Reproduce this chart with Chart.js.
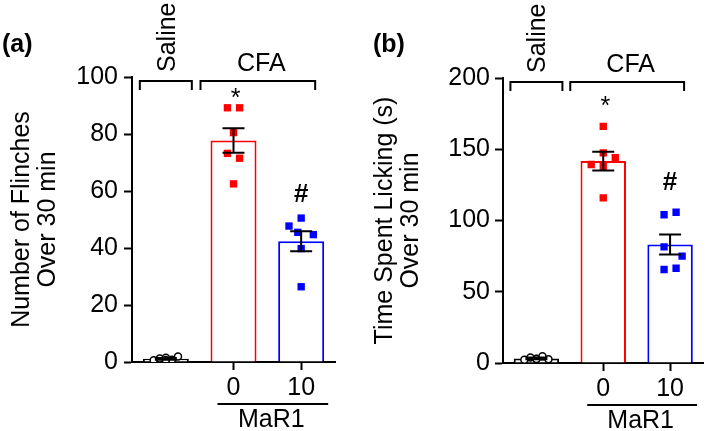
<!DOCTYPE html>
<html>
<head>
<meta charset="utf-8">
<script src="https://cdn.jsdelivr.net/npm/chart.js@4.4.0/dist/chart.umd.min.js"></script>
<style>
  html, body { margin: 0; padding: 0; background: #fff; }
  #wrap { position: relative; width: 709px; height: 431px; overflow: hidden; }
  canvas { position: absolute; top: 0; }
  #chartA { left: 0; }
  #chartB { left: 355px; }
  .tag { position: absolute; top: 29px; font: bold 25px 'Liberation Sans', Arial, sans-serif; }
</style>
</head>
<body>
<div id="wrap">
  <canvas id="chartA" width="355" height="431"></canvas>
  <canvas id="chartB" width="354" height="431"></canvas>
  <div class="tag" style="left:2px">(a)</div>
  <div class="tag" style="left:373px">(b)</div>
</div>
<script>
// groups along the x axis: Saline, CFA + MaR1 0, CFA + MaR1 10
const groupNames = ['Saline', 'CFA'];
const doseLabels = ['', '0', '10'];
const doseTitle = 'MaR1';

// (a) flinches
const flinchTicks = [0, 20, 40, 60, 80, 100];
const flinchMean = [1.1, 77.7, 42.4];
const flinchSem = [0.3, 4.3, 3.5];
const flinchSaline = [0.6, 1.2, 1.5, 0.8, 1.9, 0.7];
const flinchMar0 = [89.2, 89.2, 80.5, 73.2, 71.5, 62.5];
const flinchMar10 = [50.5, 47.7, 45.5, 44.7, 39.8, 26.4];

// (b) licking time
const lickTicks = [0, 50, 100, 150, 200];
const lickMean = [3.2, 141.7, 83.1];
const lickSem = [0.6, 6.6, 7.0];
const lickSaline = [2.2, 3.8, 3.0, 4.8, 2.6, 2.8];
const lickMar0 = [166.1, 147.5, 144.0, 139.3, 137.7, 115.9];
const lickMar10 = [104.0, 105.8, 81.5, 75.0, 65.6, 66.5];

const FONT = "'Liberation Sans', Arial, sans-serif";
const FS = 25;
Chart.defaults.font.family = FONT;
Chart.defaults.color = '#000';

const RED = '#ff0000';
const BLUE = '#0000ff';
const BLACK = '#000000';

// horizontal scatter of the dots (fraction of a category)
const spreadSaline = [-0.18, -0.09, 0, 0.09, 0.18, 0];

function dots(x, values, spread) {
    return values.map((v, i) => ({x: x + spread[i], y: v}));
}

function bracket(ctx, x1, x2, y) {
    ctx.beginPath();
    ctx.moveTo(x1, y + 9);
    ctx.lineTo(x1, y);
    ctx.lineTo(x2, y);
    ctx.lineTo(x2, y + 9);
    ctx.stroke();
}

// error bars, brackets and labels round the plot
const extras = {
    id: 'extras',
    afterDatasetsDraw(chart, args, opts) {
        const ctx = chart.ctx;
        const xs = chart.scales.x;
        const ys = chart.scales.y;
        ctx.save();
        ctx.strokeStyle = BLACK;
        ctx.lineWidth = 2;
        opts.mean.forEach((m, i) => {
            const px = xs.getPixelForValue(i);
            const hi = ys.getPixelForValue(m + opts.sem[i]);
            const lo = ys.getPixelForValue(m - opts.sem[i]);
            ctx.beginPath();
            ctx.moveTo(px, hi); ctx.lineTo(px, lo);
            ctx.moveTo(px - 11, hi); ctx.lineTo(px + 11, hi);
            ctx.moveTo(px - 11, lo); ctx.lineTo(px + 11, lo);
            ctx.stroke();
        });
        ctx.restore();
    },
    afterDraw(chart, args, opts) {
        const ctx = chart.ctx;
        const area = chart.chartArea;
        const xs = chart.scales.x;
        const ys = chart.scales.y;
        const p0 = xs.getPixelForValue(0);
        const p1 = xs.getPixelForValue(1);
        const p2 = xs.getPixelForValue(2);
        const capMid = FS * 0.358;
        ctx.save();
        ctx.strokeStyle = BLACK;
        ctx.fillStyle = BLACK;
        ctx.lineWidth = 2;

        bracket(ctx, p0 - 26, p0 + 26, area.top + 4);
        bracket(ctx, p1 - 33, p2 + 14, area.top + 4);

        ctx.font = FS + 'px ' + FONT;
        ctx.textBaseline = 'alphabetic';
        ctx.save();
        ctx.translate(p0 + 9, area.top - 5);
        ctx.rotate(-Math.PI / 2);
        ctx.textAlign = 'left';
        ctx.fillText(groupNames[0], 0, 0);
        ctx.restore();

        ctx.textAlign = 'center';
        ctx.fillText(groupNames[1], (p1 + p2) / 2 - 6, area.top - 15 + capMid);

        // significance marks
        ctx.fillText('*', p1 + 2, area.top + opts.starGap + FS * 0.57);
        ctx.font = 'bold 26px ' + FONT;
        const topBlue = ys.getPixelForValue(Math.max(...opts.topDots));
        ctx.fillText('#', p2, topBlue - opts.hashGap + 9);

        // MaR1 dose bar under the axis
        ctx.beginPath();
        ctx.moveTo(p1 - 16, area.bottom + 42);
        ctx.lineTo(p2 + 27, area.bottom + 42);
        ctx.stroke();
        ctx.font = FS + 'px ' + FONT;
        ctx.fillText(doseTitle, (p1 + p2) / 2 + 4, area.bottom + 56 + capMid);
        ctx.restore();
    }
};

function makePanel(canvasId, cfg) {
    const ctx = document.getElementById(canvasId).getContext('2d');
    return new Chart(ctx, {
        type: 'bar',
        data: {
            datasets: [
                {
                    type: 'scatter',
                    data: dots(0, cfg.saline, spreadSaline),
                    pointStyle: 'circle',
                    pointRadius: 3.5,
                    backgroundColor: '#ffffff',
                    borderColor: BLACK,
                    borderWidth: 1.5,
                    order: 1
                },
                {
                    type: 'scatter',
                    data: dots(1, cfg.mar0, cfg.spread0),
                    pointStyle: 'rect',
                    pointRadius: 5.2,
                    backgroundColor: RED,
                    borderWidth: 0,
                    order: 1
                },
                {
                    type: 'scatter',
                    data: dots(2, cfg.mar10, cfg.spread10),
                    pointStyle: 'rect',
                    pointRadius: 5.2,
                    backgroundColor: BLUE,
                    borderWidth: 0,
                    order: 1
                },
                {
                    type: 'bar',
                    data: cfg.mean.map((m, i) => ({x: i, y: m})),
                    backgroundColor: '#ffffff',
                    borderColor: [BLACK, RED, BLUE],
                    borderWidth: 2,
                    barPercentage: 0.68,
                    categoryPercentage: 1,
                    order: 2
                }
            ]
        },
        options: {
            responsive: false,
            animation: false,
            events: [],
            layout: {
                padding: cfg.padding
            },
            plugins: {
                legend: {display: false},
                tooltip: {enabled: false},
                extras: {
                    mean: cfg.mean,
                    sem: cfg.sem,
                    starGap: cfg.starGap,
                    hashGap: cfg.hashGap,
                    topDots: cfg.mar10
                }
            },
            scales: {
                x: {
                    type: 'linear',
                    min: -0.5,
                    max: 2.5,
                    offset: false,
                    afterBuildTicks: (axis) => {
                        axis.ticks = doseLabels.map((l, i) => ({value: i}));
                    },
                    afterFit: (axis) => { axis.height = 40; },
                    ticks: {
                        autoSkip: false,
                        maxRotation: 0,
                        padding: 3,
                        font: {size: FS},
                        callback: (v) => doseLabels[Math.round(v)]
                    },
                    grid: {
                        offset: false,
                        drawOnChartArea: false,
                        tickLength: 8,
                        tickWidth: 2,
                        tickColor: (c) => c.index === 0 ? 'rgba(0,0,0,0)' : BLACK
                    },
                    border: {color: BLACK, width: 2}
                },
                y: {
                    min: cfg.ticks[0],
                    max: cfg.ticks[cfg.ticks.length - 1],
                    afterBuildTicks: (axis) => {
                        axis.ticks = cfg.ticks.map(v => ({value: v}));
                    },
                    afterFit: (axis) => { axis.width = cfg.yWidth; },
                    ticks: {
                        padding: cfg.tickPad,
                        font: {size: FS}
                    },
                    grid: {
                        drawOnChartArea: false,
                        tickLength: 8,
                        tickWidth: 2,
                        tickColor: BLACK
                    },
                    border: {color: BLACK, width: 2},
                    title: {
                        display: true,
                        text: cfg.title,
                        font: {size: FS, lineHeight: 1.04},
                        padding: 0
                    }
                }
            }
        },
        plugins: [extras]
    });
}

makePanel('chartA', {
    mean: flinchMean,
    sem: flinchSem,
    saline: flinchSaline,
    mar0: flinchMar0,
    mar10: flinchMar10,
    spread0: [-0.09, 0.09, 0, -0.09, 0.09, 0],
    spread10: [0, -0.18, -0.05, 0.18, 0, 0],
    ticks: flinchTicks,
    title: ['Number of Flinches', 'Over 30 min'],
    padding: {left: 9, top: 77, right: 20, bottom: 29},
    yWidth: 123,
    tickPad: 6,
    starGap: 15,
    hashGap: 25
});

makePanel('chartB', {
    mean: lickMean,
    sem: lickSem,
    saline: lickSaline,
    mar0: lickMar0,
    mar10: lickMar10,
    spread0: [0, 0, 0.18, -0.18, 0, 0],
    spread10: [-0.09, 0.09, -0.09, 0.18, -0.09, 0.09],
    ticks: lickTicks,
    title: ['Time Spent Licking (s)', 'Over 30 min'],
    padding: {left: 17, top: 78, right: 2, bottom: 28},
    yWidth: 131,
    tickPad: 5,
    starGap: 22,
    hashGap: 31
});
</script>
</body>
</html>
